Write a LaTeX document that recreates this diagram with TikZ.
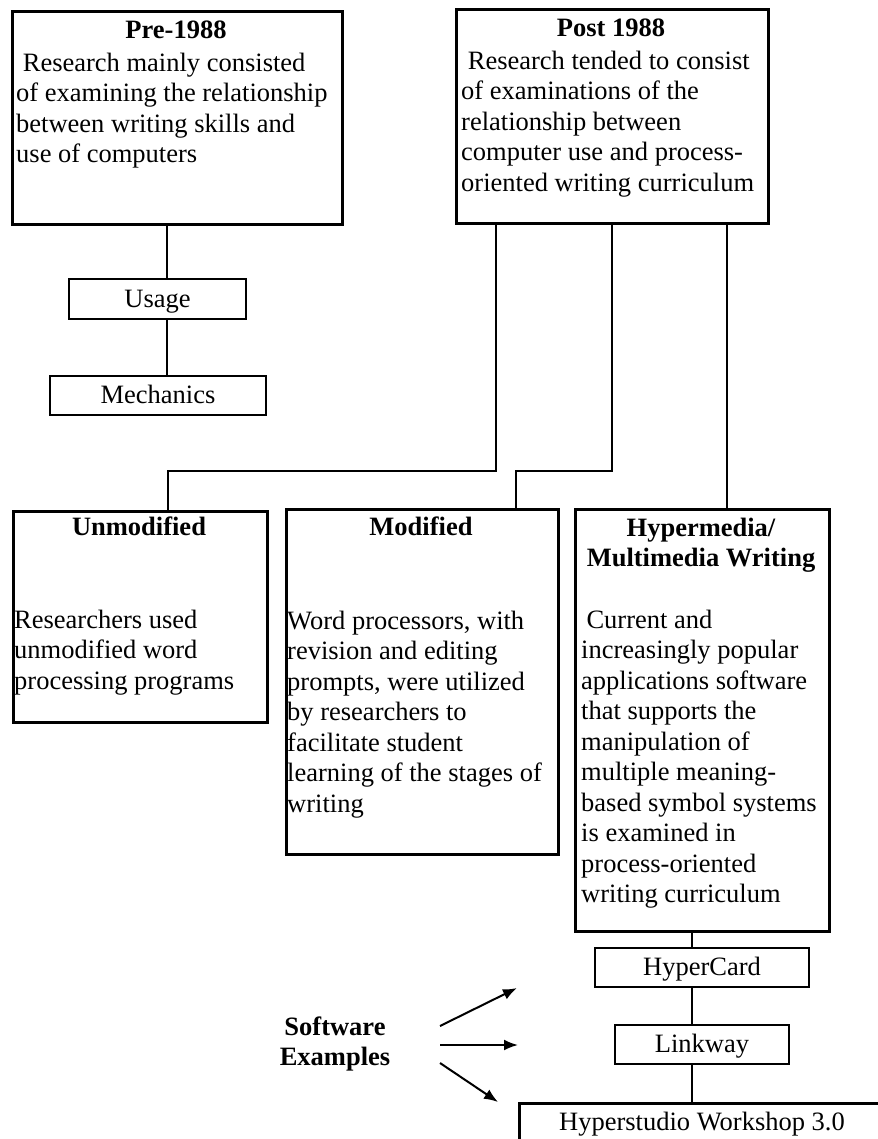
\documentclass[tikz,border=0pt]{standalone}
\usepackage{fontspec}
\setmainfont{Liberation Serif}
\usetikzlibrary{arrows.meta}
\newcommand\fsz{\fontsize{26.5}{30.5}\selectfont}
\tikzset{
  box/.style={draw, line width=2.6pt, inner sep=0pt, anchor=north west},
  smallbox/.style={draw, line width=2.6pt, inner sep=0pt, font=\fsz, text height=21pt, text depth=5pt},
  title/.style={font=\fsz\bfseries, inner sep=0pt, anchor=base},
  body/.style={font=\fsz, inner sep=0pt, anchor=north west, align=left},
  conn/.style={line width=2.2pt},
  arr/.style={line width=2pt, -{Latex[length=14pt,width=11pt]}},
}
\begin{document}
\begin{tikzpicture}[x=1pt,y=-1pt]
\useasboundingbox (0,0) rectangle (877,1139);
% top boxes
\node[box, minimum width=330pt, minimum height=213pt] (pre) at (11,10) {};
\node[title] (pretitle) at (176,39) {Pre-1988};
\node[body] (pretext) at (16,49) {\rule{0pt}{22pt}\hspace*{0.25em}Research mainly consisted\\of examining the relationship\\between writing skills and\\use of computers};
\node[box, minimum width=312pt, minimum height=214pt] (post) at (455,8) {};
\node[title] (posttitle) at (611,37) {Post 1988};
\node[body] (posttext) at (461,47) {\rule{0pt}{22pt}\hspace*{0.25em}Research tended to consist\\of examinations of the\\relationship between\\computer use and process-\\oriented writing curriculum};
% left chain
\node[smallbox, minimum width=177pt, minimum height=40pt] (usage) at (157.5,299) {Usage};
\node[smallbox, minimum width=216pt, minimum height=39pt] (mech) at (158,395.5) {Mechanics};
% middle boxes
\node[box, minimum width=254pt, minimum height=211pt] (unmod) at (12,510) {};
\node[title] (unmodtitle) at (139,535) {Unmodified};
\node[body] (unmodtext) at (14,606) {\rule{0pt}{22pt}Researchers used\\unmodified word\\processing programs};
\node[box, minimum width=272pt, minimum height=345pt] (mod) at (285,508) {};
\node[title] (modtitle) at (421,535) {Modified};
\node[body] (modtext) at (287,607) {\rule{0pt}{22pt}Word processors, with\\revision and editing\\prompts, were utilized\\by researchers to\\facilitate student\\learning of the stages of\\writing};
\node[box, minimum width=254pt, minimum height=422pt] (hyp) at (574,508) {};
\node[font=\fsz\bfseries, inner sep=0pt, anchor=north, align=center] (hyptitle) at (701,514) {\rule{0pt}{22pt}Hypermedia/\\Multimedia Writing};
\node[body] (hyptext) at (581,606) {\rule{0pt}{22pt}\hspace*{0.2em}Current and\\increasingly popular\\applications software\\that supports the\\manipulation of\\multiple meaning-\\based symbol systems\\is examined in\\process-oriented\\writing curriculum};
% software chain
\node[smallbox, minimum width=214pt, minimum height=39pt] (hc) at (702,967.5) {HyperCard};
\node[smallbox, minimum width=174pt, minimum height=39pt] (lw) at (702,1044.5) {Linkway};
\node[box, minimum width=400pt, minimum height=70pt] (hs) at (518,1102) {};
\node[font=\fsz, inner sep=0pt, anchor=base] (hstext) at (702,1130) {Hyperstudio Workshop 3.0};
\node[font=\fsz\bfseries, inner sep=0pt, anchor=north, align=center] (sw) at (335,1013) {\rule{0pt}{22pt}Software\\Examples};
% coordinates
\coordinate (xa) at (167,0);
\coordinate (b1) at (496,471);
\coordinate (b2) at (168,471);
\coordinate (b3) at (612,471);
\coordinate (b4) at (516,471);
\coordinate (b5) at (727,0);
\coordinate (b6) at (692,0);
\coordinate (a1s) at (440,1026);
\coordinate (a1e) at (517,988);
\coordinate (a2s) at (440,1045);
\coordinate (a2e) at (518,1045);
\coordinate (a3s) at (440,1063);
\coordinate (a3e) at (498,1102);
% connectors
\draw[conn] (pre.south -| xa) -- (usage.north -| xa);
\draw[conn] (usage.south -| xa) -- (mech.north -| xa);
\draw[conn] (post.south -| b1) -- (b1) -- (b2) -- (unmod.north -| b2);
\draw[conn] (post.south -| b3) -- (b3) -- (b4) -- (mod.north -| b4);
\draw[conn] (post.south -| b5) -- (hyp.north -| b5);
\draw[conn] (hyp.south -| b6) -- (hc.north -| b6);
\draw[conn] (hc.south -| b6) -- (lw.north -| b6);
\draw[conn] (lw.south -| b6) -- (hs.north -| b6);
\draw[arr] (a1s) -- (a1e);
\draw[arr] (a2s) -- (a2e);
\draw[arr] (a3s) -- (a3e);
\end{tikzpicture}
\end{document}
